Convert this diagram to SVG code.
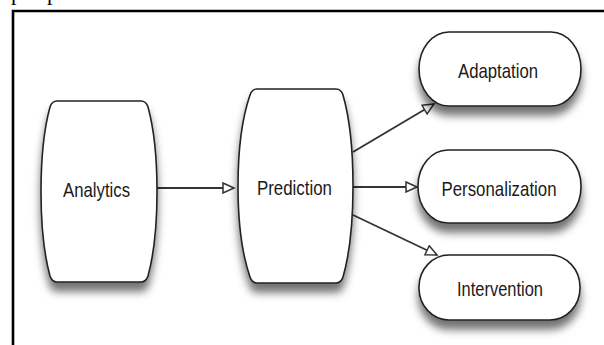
<svg xmlns="http://www.w3.org/2000/svg" width="604" height="345" viewBox="0 0 604 345">
  <style>
    .node { fill: #ffffff; stroke: #222222; stroke-width: 1.6; }
    .label { font-family: "Liberation Sans", Arial, sans-serif; font-size: 21px; fill: #1a1a1a; text-anchor: middle; }
    .edge { stroke: #333333; stroke-width: 1.8; fill: none; marker-end: url(#arrow); }
    .frame { stroke: #000000; stroke-width: 2.6; fill: none; }
    .clip-text { font-family: "Liberation Serif", "Times New Roman", serif; font-size: 22px; fill: #000000; }
  </style>
  <defs>
    <filter id="shadow" x="-20%" y="-20%" width="140%" height="150%">
      <feDropShadow dx="0" dy="9" stdDeviation="4" flood-color="#000000" flood-opacity="0.55"/>
    </filter>
    <marker id="arrow" markerUnits="userSpaceOnUse" markerWidth="14" markerHeight="12" refX="12" refY="6" orient="auto">
      <path d="M1,1 L12,6 L1,11 Z" fill="#ffffff" stroke="#333333" stroke-width="1.5"/>
    </marker>
  </defs>
  <rect width="604" height="345" fill="#ffffff"/>
  <text class="clip-text" x="11" y="0">p</text>
  <text class="clip-text" x="47" y="0">p</text>
  <path class="frame" d="M13,345 V11 H604"/>

  <g id="connectors">
    <line class="edge" x1="157" y1="188" x2="234" y2="188"/>
    <line class="edge" x1="353" y1="152" x2="434" y2="104"/>
    <line class="edge" x1="353" y1="187" x2="417" y2="187"/>
    <line class="edge" x1="353" y1="215" x2="437" y2="255"/>
  </g>

  <g id="analytics">
    <path class="node" filter="url(#shadow)" d="M57,101 H141 Q146,101 148,107 Q157,140 157,191.5 Q157,243 148,276 Q146,282 141,282 H57 Q52,282 50,276 Q41,243 41,191.5 Q41,140 50,107 Q52,101 57,101 Z"/>
    <text class="label" x="96.5" y="197" textLength="67" lengthAdjust="spacingAndGlyphs">Analytics</text>
  </g>

  <g id="prediction">
    <path class="node" filter="url(#shadow)" d="M257,89 H336 Q341,89 343,95 Q353,130 353,186 Q353,242 343,277 Q341,283 336,283 H257 Q252,283 250,277 Q238,242 238,186 Q238,130 250,95 Q252,89 257,89 Z"/>
    <text class="label" x="294.5" y="195" textLength="75" lengthAdjust="spacingAndGlyphs">Prediction</text>
  </g>

  <g id="adaptation">
    <rect class="node" filter="url(#shadow)" x="419" y="32" width="162" height="74" rx="30" ry="37"/>
    <text class="label" x="498" y="78" textLength="80" lengthAdjust="spacingAndGlyphs">Adaptation</text>
  </g>

  <g id="personalization">
    <rect class="node" filter="url(#shadow)" x="418" y="150" width="163" height="73" rx="30" ry="36"/>
    <text class="label" x="499" y="196" textLength="115" lengthAdjust="spacingAndGlyphs">Personalization</text>
  </g>

  <g id="intervention">
    <rect class="node" filter="url(#shadow)" x="419" y="255" width="161" height="65" rx="30" ry="32"/>
    <text class="label" x="500" y="296" textLength="86" lengthAdjust="spacingAndGlyphs">Intervention</text>
  </g>
</svg>
